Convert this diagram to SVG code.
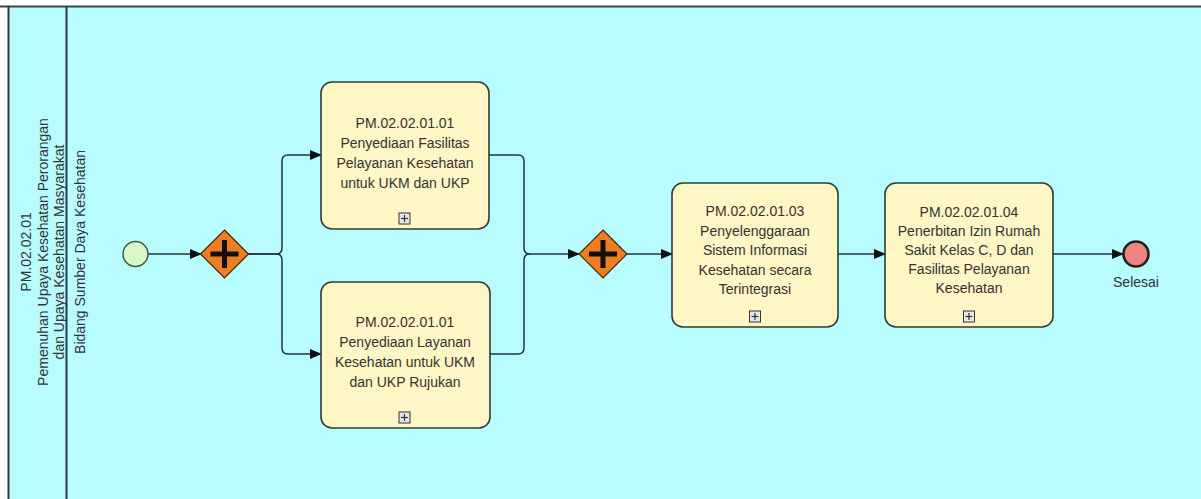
<svg xmlns="http://www.w3.org/2000/svg" width="1201" height="499" viewBox="0 0 1201 499">
<style>
  .txt { font-family: "Liberation Sans", Arial, sans-serif; font-size: 14px; fill: #333333; text-anchor: middle; }
  .task { fill: #fef6c4; stroke: #2f3a3a; stroke-width: 1.6; }
  .gw { fill: #ee7e1f; stroke: #3a2a10; stroke-width: 1.2; }
  .cross { stroke: #111; stroke-width: 5; stroke-linecap: butt; }
  .flow { fill: none; stroke: #25343a; stroke-width: 1.5; }
  .exp { fill: #e8e8e8; stroke: #333; stroke-width: 1; }
  .expl { stroke: #333; stroke-width: 1.2; }
</style>
<defs>
  <marker id="arr" markerWidth="12" markerHeight="10" refX="11" refY="5" orient="auto" markerUnits="userSpaceOnUse">
    <path d="M0,0 L12,5 L0,10 Z" fill="#111"/>
  </marker>
</defs>
<rect x="0" y="0" width="1201" height="499" fill="#ffffff"/>
<g id="pool">
  <rect x="8" y="6.5" width="1200" height="500" fill="#b8fcfe"/>
  <line x1="0" y1="6.5" x2="1201" y2="6.5" stroke="#3a4444" stroke-width="2"/>
  <line x1="8.5" y1="6" x2="8.5" y2="499" stroke="#2a3a40" stroke-width="2"/>
  <line x1="66.5" y1="6" x2="66.5" y2="499" stroke="#2a3a40" stroke-width="2"/>
  <text class="txt" transform="translate(31,252) rotate(-90)">PM.02.02.01</text>
  <text class="txt" transform="translate(48,252) rotate(-90)">Pemenuhan Upaya Kesehatan Perorangan</text>
  <text class="txt" transform="translate(64,252) rotate(-90)">dan Upaya Kesehatan Masyarakat</text>
  <text class="txt" transform="translate(85,252) rotate(-90)">Bidang Sumber Daya Kesehatan</text>
</g>
<g id="connectors">
  <path class="flow" d="M148,254 H201" marker-end="url(#arr)"/>
  <path class="flow" d="M248,254 H276 Q282,254 282,248 V161 Q282,155 288,155 H321" marker-end="url(#arr)"/>
  <path class="flow" d="M248,254 H276 Q282,254 282,260 V348 Q282,354 288,354 H321" marker-end="url(#arr)"/>
  <path class="flow" d="M489,155 H518 Q524,155 524,161 V248 Q524,254 530,254 H579" marker-end="url(#arr)"/>
  <path class="flow" d="M490,354 H518 Q524,354 524,348 V260 Q524,254 530,254"/>
  <path class="flow" d="M627,254 H672" marker-end="url(#arr)"/>
  <path class="flow" d="M838,254 H885" marker-end="url(#arr)"/>
  <path class="flow" d="M1053,254 H1123" marker-end="url(#arr)"/>
</g>
<g id="start">
  <circle cx="135.5" cy="254" r="12.5" fill="#d9f6c8" stroke="#3d5a40" stroke-width="1.5"/>
</g>
<g id="gateway1">
  <polygon class="gw" points="224.5,230 248.5,254 224.5,278 200.5,254"/>
  <line class="cross" x1="224.5" y1="240" x2="224.5" y2="268"/>
  <line class="cross" x1="210.5" y1="254" x2="238.5" y2="254"/>
</g>
<g id="task1">
  <rect class="task" x="321" y="82" width="168" height="147" rx="11"/>
  <text class="txt" x="405" y="128">PM.02.02.01.01</text>
  <text class="txt" x="405" y="148">Penyediaan Fasilitas</text>
  <text class="txt" x="405" y="168">Pelayanan Kesehatan</text>
  <text class="txt" x="405" y="188">untuk UKM dan UKP</text>
  <rect class="exp" x="399" y="213" width="11" height="11"/>
  <line class="expl" x1="404.5" y1="215" x2="404.5" y2="222"/>
  <line class="expl" x1="401" y1="218.5" x2="408" y2="218.5"/>
</g>
<g id="task2">
  <rect class="task" x="321" y="282" width="169" height="146" rx="11"/>
  <text class="txt" x="405" y="327">PM.02.02.01.01</text>
  <text class="txt" x="405" y="347">Penyediaan Layanan</text>
  <text class="txt" x="405" y="367">Kesehatan untuk UKM</text>
  <text class="txt" x="405" y="387">dan UKP Rujukan</text>
  <rect class="exp" x="399" y="412" width="11" height="11"/>
  <line class="expl" x1="404.5" y1="414" x2="404.5" y2="421"/>
  <line class="expl" x1="401" y1="417.5" x2="408" y2="417.5"/>
</g>
<g id="gateway2">
  <polygon class="gw" points="603,230 627,254 603,278 579,254"/>
  <line class="cross" x1="603" y1="240" x2="603" y2="268"/>
  <line class="cross" x1="589" y1="254" x2="617" y2="254"/>
</g>
<g id="task3">
  <rect class="task" x="672" y="183" width="166" height="144" rx="11"/>
  <text class="txt" x="755" y="216">PM.02.02.01.03</text>
  <text class="txt" x="755" y="235.5">Penyelenggaraan</text>
  <text class="txt" x="755" y="255">Sistem Informasi</text>
  <text class="txt" x="755" y="274.5">Kesehatan secara</text>
  <text class="txt" x="755" y="294">Terintegrasi</text>
  <rect class="exp" x="749.5" y="311" width="11" height="11"/>
  <line class="expl" x1="755" y1="313" x2="755" y2="320"/>
  <line class="expl" x1="751.5" y1="316.5" x2="758.5" y2="316.5"/>
</g>
<g id="task4">
  <rect class="task" x="885" y="183" width="168" height="144" rx="11"/>
  <text class="txt" x="969" y="217">PM.02.02.01.04</text>
  <text class="txt" x="969" y="236">Penerbitan Izin Rumah</text>
  <text class="txt" x="969" y="255">Sakit Kelas C, D dan</text>
  <text class="txt" x="969" y="274">Fasilitas Pelayanan</text>
  <text class="txt" x="969" y="293">Kesehatan</text>
  <rect class="exp" x="963.5" y="311" width="11" height="11"/>
  <line class="expl" x1="969" y1="313" x2="969" y2="320"/>
  <line class="expl" x1="965.5" y1="316.5" x2="972.5" y2="316.5"/>
</g>
<g id="end">
  <circle cx="1136" cy="254" r="12.5" fill="#f08282" stroke="#222" stroke-width="2.6"/>
  <text class="txt" x="1136" y="287">Selesai</text>
</g>
</svg>
